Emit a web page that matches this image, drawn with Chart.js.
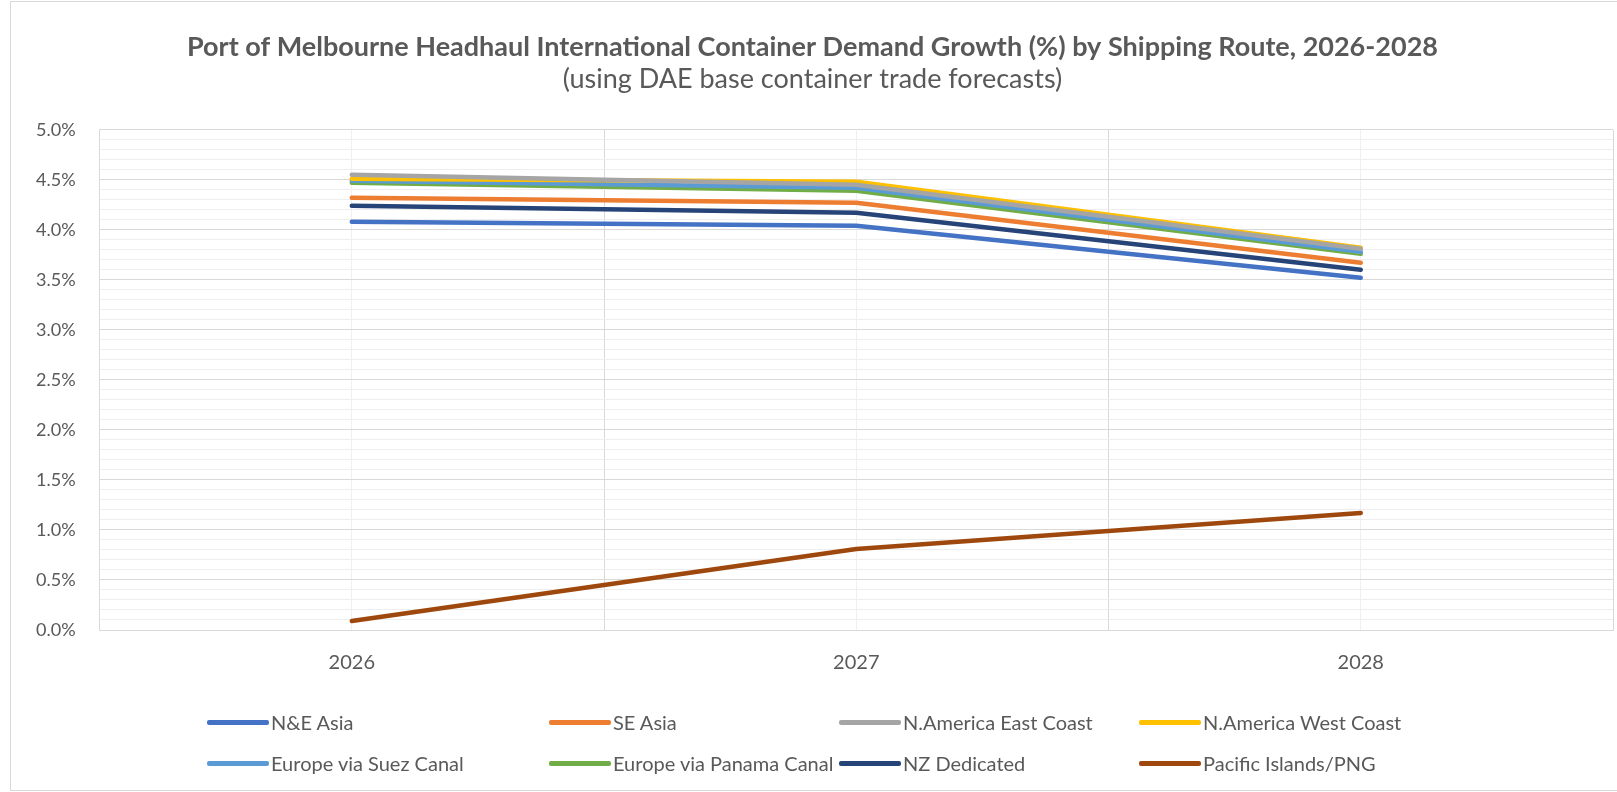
<!DOCTYPE html>
<html lang="en">
<head>
  <meta charset="UTF-8">
  <title>Port of Melbourne Headhaul Container Demand Growth</title>
  <script src="https://cdn.jsdelivr.net/npm/chart.js@4.4.1/dist/chart.umd.min.js"></script>
  <style>
    body {
      margin: 0;
      background: #fff;
      font-family: 'Lato', sans-serif;
      overflow: hidden;
    }

    .frame {
      position: absolute;
      left: 10px;
      top: 1px;
      width: 1620px;
      height: 788px;
      border: 1px solid #d9d9d9;
    }

    .chart-box {
      position: absolute;
      left: 0;
      top: 0;
      width: 1617px;
      height: 792px;
    }

    .legend {
      position: absolute;
      left: 207px;
      top: 710px;
      display: grid;
      grid-template-columns: 342px 290px 300px 300px;
      row-gap: 17px;
      font-size: 20px;
      color: #595959;
    }

    .legend-item {
      display: flex;
      align-items: center;
      white-space: nowrap;
      height: 24px;
    }

    .legend-item span.swatch {
      display: inline-block;
      width: 62px;
      height: 5px;
      border-radius: 2px;
      margin-right: 2px;
    }
  </style>
</head>
<body>
<div class="frame"></div>
<div class="chart-box">
  <canvas id="routeChart"></canvas>
</div>
<div class="legend" id="routeLegend"></div>

<script>
  // values in percent
  const years = ["2026", "2027", "2028"];
  const neAsia = [4.08, 4.04, 3.52];
  const seAsia = [4.32, 4.27, 3.67];
  const naEastCoast = [4.55, 4.45, 3.81];
  const naWestCoast = [4.51, 4.48, 3.82];
  const europeSuez = [4.49, 4.42, 3.78];
  const europePanama = [4.47, 4.39, 3.76];
  const nzDedicated = [4.24, 4.17, 3.60];
  const pacificPng = [0.09, 0.81, 1.17];

  const textColor = "#595959";
  Chart.defaults.font.family = "'Lato', sans-serif";
  Chart.defaults.color = textColor;

  function line(label, data, color) {
    return {
      label: label,
      data: data,
      borderColor: color,
      backgroundColor: color,
      borderWidth: 4.5,
      borderCapStyle: 'round',
      borderJoinStyle: 'round',
      pointRadius: 0,
      pointHoverRadius: 0,
      tension: 0,
      fill: false
    };
  }

  const chart = new Chart(document.getElementById("routeChart"), {
    type: 'line',
    data: {
      labels: years,
      datasets: [
        line("N&E Asia", neAsia, "#4472C4"),
        line("SE Asia", seAsia, "#ED7D31"),
        line("N.America East Coast", naEastCoast, "#A5A5A5"),
        line("N.America West Coast", naWestCoast, "#FFC000"),
        line("Europe via Suez Canal", europeSuez, "#5B9BD5"),
        line("Europe via Panama Canal", europePanama, "#70AD47"),
        line("NZ Dedicated", nzDedicated, "#264478"),
        line("Pacific Islands/PNG", pacificPng, "#9E480E")
      ]
    },
    options: {
      responsive: true,
      maintainAspectRatio: false,
      animation: false,
      layout: { padding: { left: 12, right: 4, top: 0, bottom: 96 } },
      plugins: {
        legend: { display: false },
        tooltip: { enabled: false },
        title: {
          display: true,
          text: "Port of Melbourne Headhaul International Container Demand Growth (%) by Shipping Route, 2026-2028",
          color: textColor,
          font: { size: 27, weight: 'bold' },
          padding: { top: 31, bottom: 0 }
        },
        subtitle: {
          display: true,
          text: "(using DAE base container trade forecasts)",
          color: textColor,
          font: { size: 27 },
          padding: { top: 0, bottom: 34 }
        }
      },
      scales: {
        x: {
          type: 'category',
          offset: true,
          grid: { offset: true, color: "#d9d9d9", drawTicks: false },
          border: { color: "#d9d9d9" },
          ticks: { padding: 21, font: { size: 20 }, color: textColor }
        },
        xMinor: {
          type: 'category',
          position: 'bottom',
          offset: true,
          grid: { offset: false, color: "#f0f0f0", drawTicks: false },
          border: { display: false },
          ticks: { display: false }
        },
        y: {
          min: 0,
          max: 5,
          grid: {
            drawTicks: false,
            color: ctx => (Math.round(ctx.tick.value * 10) % 5 === 0) ? "#d9d9d9" : "#eeeeee"
          },
          border: { color: "#d9d9d9" },
          ticks: {
            stepSize: 0.1,
            autoSkip: false,
            maxTicksLimit: 100,
            padding: 24,
            font: { size: 18 },
            color: textColor,
            callback: v => (Math.round(v * 10) % 5 === 0) ? v.toFixed(1) + "%" : ""
          }
        }
      }
    }
  });

  // legend in four columns, built from the chart's own datasets
  const legendBox = document.getElementById("routeLegend");
  chart.data.datasets.forEach(ds => {
    const item = document.createElement("div");
    item.className = "legend-item";
    const sw = document.createElement("span");
    sw.className = "swatch";
    sw.style.background = ds.borderColor;
    item.appendChild(sw);
    item.appendChild(document.createTextNode(ds.label));
    legendBox.appendChild(item);
  });
</script>

</body>
</html>
